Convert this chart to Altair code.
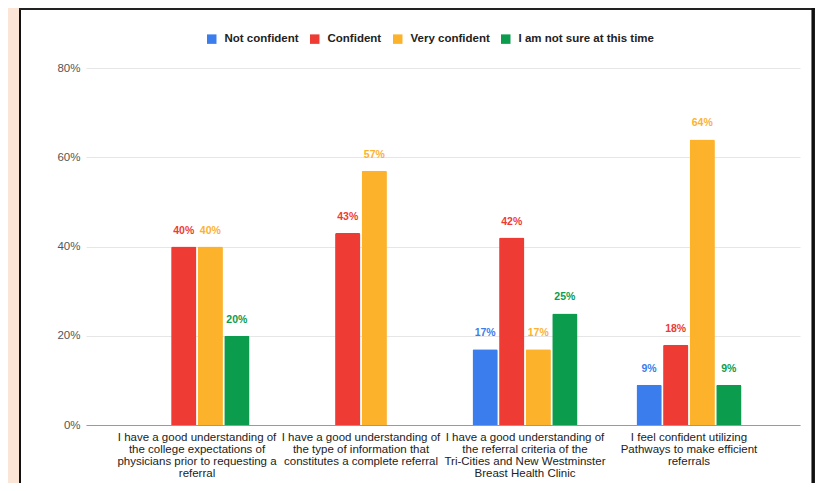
import json
import altair as alt
import pandas as pd

categories = [
    "I have a good understanding of the college expectations of physicians prior to requesting a referral",
    "I have a good understanding of the type of information that constitutes a complete referral",
    "I have a good understanding of the referral criteria of the Tri-Cities and New Westminster Breast Health Clinic",
    "I feel confident utilizing Pathways to make efficient referrals",
]
category_lines = [
    ["I have a good understanding of", "the college expectations of", "physicians prior to requesting a", "referral"],
    ["I have a good understanding of", "the type of information that", "constitutes a complete referral"],
    ["I have a good understanding of", "the referral criteria of the", "Tri-Cities and New Westminster", "Breast Health Clinic"],
    ["I feel confident utilizing", "Pathways to make efficient", "referrals"],
]
series = ["Not confident", "Confident", "Very confident", "I am not sure at this time"]
colors = ["#3b7ded", "#ee3b34", "#fdb22c", "#0b9c4e"]

not_confident = [None, None, 17, 9]
confident = [40, 43, 42, 18]
very_confident = [40, 57, 17, 64]
not_sure = [20, None, 25, 9]

y_ticks = [0, 20, 40, 60, 80]

rows = []
for s, vals in zip(series, [not_confident, confident, very_confident, not_sure]):
    for c, v in zip(categories, vals):
        if v is not None:
            rows.append({"category": c, "series": s, "value": v})
df = pd.DataFrame(rows)

FONT = "Liberation Sans"

label_expr = ""
for c, lines in zip(categories, category_lines):
    label_expr += f"datum.value == {json.dumps(c)} ? {json.dumps(lines)} : "
label_expr += "datum.label"

x_enc = alt.X(
    "category:N",
    sort=categories,
    scale=alt.Scale(paddingInner=0.36, paddingOuter=0.357),
    axis=alt.Axis(
        title=None, labelAngle=0, labelExpr=label_expr, labelFont=FONT,
        labelFontSize=11.5, labelColor="#222222", labelLineHeight=12,
        labelPadding=6, labelBaseline="top", labelLimit=250, ticks=False,
        domain=True, domainColor="#9a9a9a", domainWidth=1, grid=False,
    ),
)
xoff_enc = alt.XOffset("series:N", sort=series,
                       scale=alt.Scale(domain=series, paddingInner=0.05, paddingOuter=0))
y_enc = alt.Y(
    "value:Q",
    scale=alt.Scale(domain=[0, 80], nice=False),
    axis=alt.Axis(
        title=None, values=y_ticks, labelExpr="datum.value + '%'", labelFont=FONT,
        labelFontSize=11.5, labelColor="#555555", labelPadding=6, ticks=False,
        domain=False, grid=True, gridColor="#e6e6e6", gridWidth=1,
    ),
)
color_scale = alt.Scale(domain=series, range=colors)

bars = alt.Chart(df).mark_bar(cornerRadiusTopLeft=1.5, cornerRadiusTopRight=1.5).encode(
    x=x_enc,
    xOffset=xoff_enc,
    y=y_enc,
    color=alt.Color(
        "series:N", scale=color_scale, sort=series,
        legend=alt.Legend(
            title=None, orient="none", legendX=120, legendY=-35, direction="horizontal",
            symbolType="square", symbolSize=90, symbolStrokeWidth=0,
            labelFont=FONT, labelFontSize=11.5, labelFontWeight="bold",
            labelColor="#222222", labelOffset=7, columnPadding=10,
        ),
    ),
)

labels = alt.Chart(df).transform_calculate(
    label="datum.value + '%'"
).mark_text(dy=-13, baseline="alphabetic", font=FONT, fontSize=10.5, fontWeight="bold").encode(
    x=alt.X("category:N", sort=categories),
    xOffset=alt.XOffset("series:N", sort=series),
    y=alt.Y("value:Q"),
    text="label:N",
    color=alt.Color("series:N", scale=color_scale, sort=series, legend=None),
)

one = alt.Data(values=[{"k": 0}])
strip = alt.Chart(one).mark_rect(color="#fbe5d6").encode(
    x=alt.value(-78), x2=alt.value(-67), y=alt.value(-60), y2=alt.value(415))
left_border = alt.Chart(one).mark_rule(color="#111111", strokeWidth=2).encode(
    x=alt.value(-66), y=alt.value(-60), y2=alt.value(415))
top_border = alt.Chart(one).mark_rule(color="#222222", strokeWidth=2).encode(
    x=alt.value(-67), x2=alt.value(729), y=alt.value(-59))
right_border = alt.Chart(one).mark_rule(color="#111111", strokeWidth=3.5).encode(
    x=alt.value(727.2), y=alt.value(-60), y2=alt.value(415))

chart = alt.layer(strip, bars, labels, left_border, top_border, right_border).properties(
    width=714,
    height=357,
    padding={"left": 78, "top": 60, "right": 15, "bottom": 58},
    autosize=alt.AutoSizeParams(type="none"),
    background="#ffffff",
).configure_view(stroke=None)

chart.save("out.html", embed_options={"renderer": "svg", "actions": False})
